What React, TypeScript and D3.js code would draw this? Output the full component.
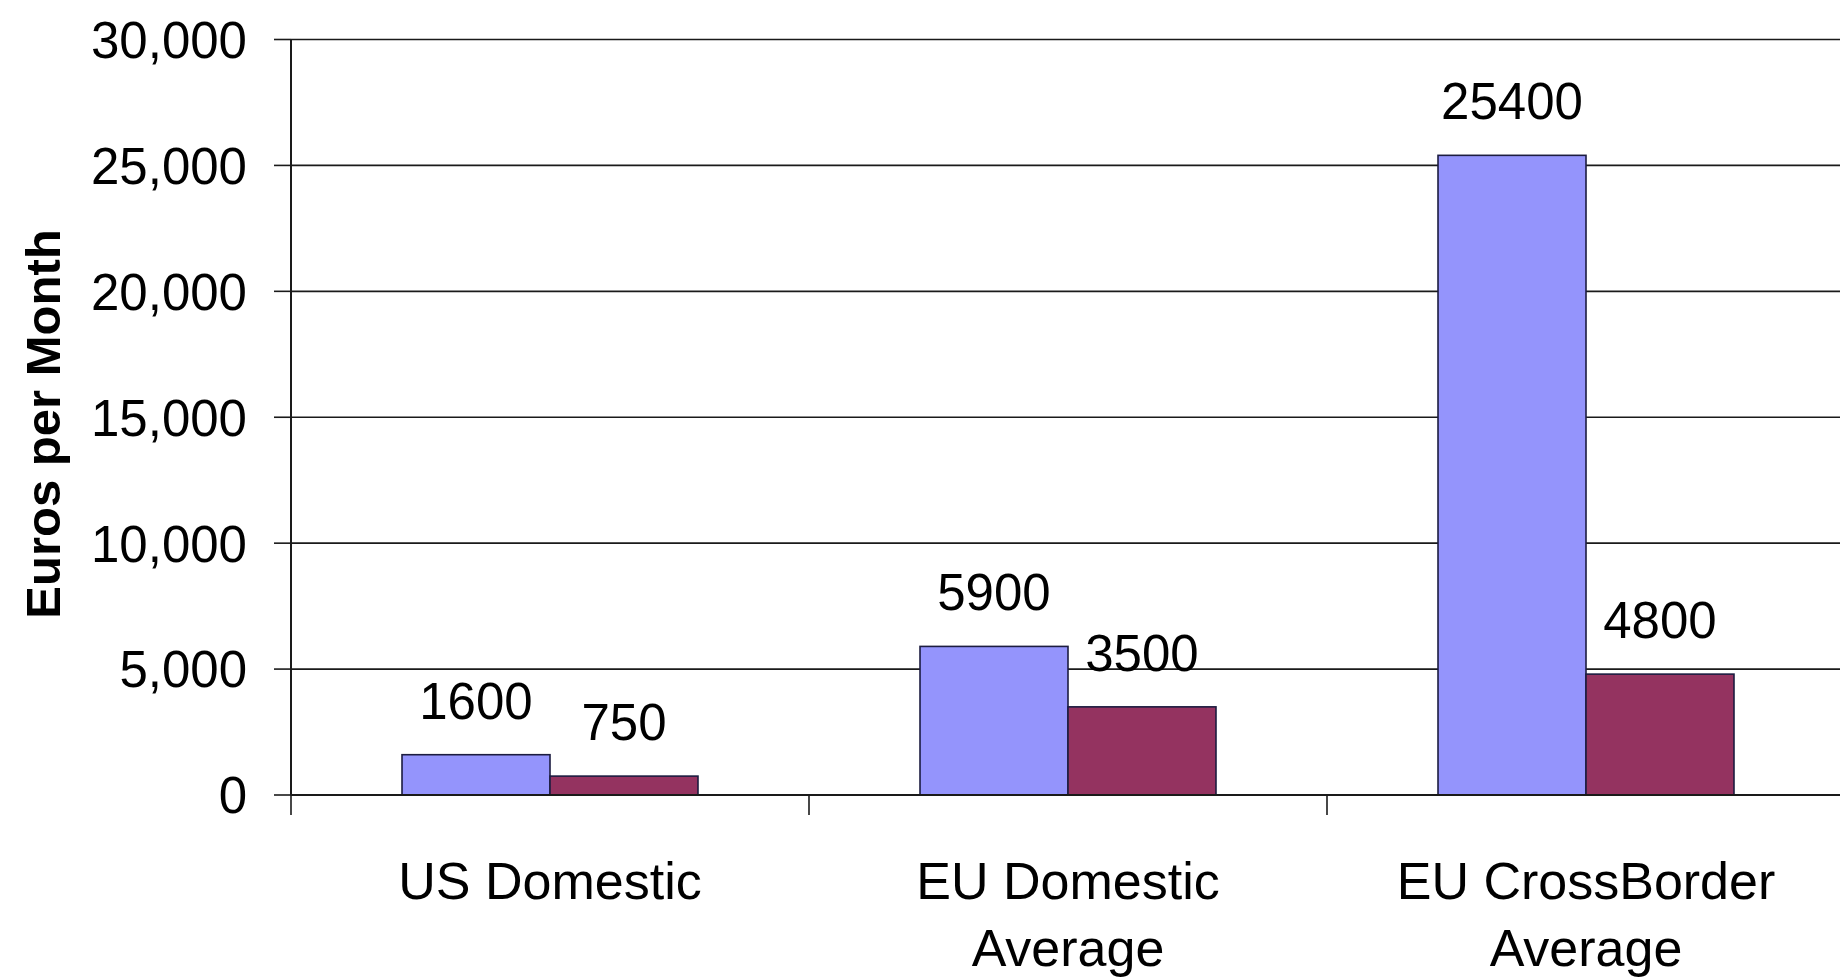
import React from "react";
import * as d3 from "d3";

const categories = ["US Domestic", "EU Domestic Average", "EU CrossBorder Average"];
const categoryLines = [["US Domestic"], ["EU Domestic", "Average"], ["EU CrossBorder", "Average"]];
const seriesKeys = ["s1", "s2"];
const series1 = [1600, 5900, 25400];
const series2 = [750, 3500, 4800];
const yTicks = [0, 5000, 10000, 15000, 20000, 25000, 30000];
const yTitle = "Euros per Month";

const W = 1840;
const H = 979;
const FONT = "'Liberation Sans', Arial, Helvetica, sans-serif";
const colors = ["#9494FC", "#943360"];

export default function App() {
  const left = 291;
  const right = 1845;
  const top = 39.5;
  const bottom = 795;

  const x0 = d3
    .scaleBand<string>()
    .domain(categories)
    .range([left, right])
    .paddingInner(0.4286)
    .paddingOuter(0.2143);
  const x1 = d3.scaleBand<string>().domain(seriesKeys).range([0, x0.bandwidth()]);
  const y = d3.scaleLinear().domain([0, 30000]).range([bottom, top]);
  const fmt = d3.format(",");
  const step = x0.step();
  const boundaries = d3.range(categories.length + 1).map((i) => left + i * step);

  const allSeries = [series1, series2];

  return (
    <svg
      width={W}
      height={H}
      style={{ position: "absolute", left: 0, top: 0, background: "#fff" }}
      fontFamily={FONT}
    >
      <rect x={0} y={0} width={W} height={H} fill="#fff" />
      {/* gridlines */}
      {yTicks.map((t) => (
        <g key={t}>
          <line x1={left} x2={right} y1={y(t)} y2={y(t)} stroke="#1a1a1a" strokeWidth={1.6} />
          <line x1={left - 17} x2={left} y1={y(t)} y2={y(t)} stroke="#1a1a1a" strokeWidth={1.6} />
          <text
            x={247}
            y={y(t)}
            dy="0.36em"
            textAnchor="end"
            fontSize={51}
            fill="#000"
          >
            {fmt(t)}
          </text>
        </g>
      ))}
      {/* bars */}
      {categories.map((c, ci) => (
        <g key={c} transform={`translate(${x0(c)},0)`}>
          {seriesKeys.map((k, si) => {
            const v = allSeries[si][ci];
            const bx = x1(k)!;
            const bw = x1.bandwidth();
            return (
              <g key={k}>
                <rect
                  x={bx}
                  y={y(v)}
                  width={bw}
                  height={y(0) - y(v)}
                  fill={colors[si]}
                  stroke="#1c1c40"
                  strokeWidth={1.6}
                />
                <text
                  x={bx + bw / 2}
                  y={y(v) - 36}
                  textAnchor="middle"
                  fontSize={51}
                  fill="#000"
                >
                  {v}
                </text>
              </g>
            );
          })}
        </g>
      ))}
      {/* axes */}
      <line x1={left} x2={left} y1={top} y2={bottom} stroke="#1a1a1a" strokeWidth={2} />
      <line x1={left} x2={right} y1={bottom} y2={bottom} stroke="#1a1a1a" strokeWidth={2} />
      {boundaries.map((b, i) => (
        <line key={i} x1={b} x2={b} y1={bottom} y2={bottom + 20} stroke="#1a1a1a" strokeWidth={1.6} />
      ))}
      {/* category labels */}
      {categories.map((c, ci) => (
        <text
          key={c}
          x={x0(c)! + x0.bandwidth() / 2}
          y={899}
          textAnchor="middle"
          fontSize={52}
          fill="#000"
        >
          {categoryLines[ci].map((line, li) => (
            <tspan key={li} x={x0(c)! + x0.bandwidth() / 2} y={899 + li * 67}>
              {line}
            </tspan>
          ))}
        </text>
      ))}
      {/* y axis title */}
      <text
        transform={`translate(60,424) rotate(-90)`}
        textAnchor="middle"
        fontSize={49}
        fontWeight="bold"
        fill="#000"
      >
        {yTitle}
      </text>
    </svg>
  );
}
